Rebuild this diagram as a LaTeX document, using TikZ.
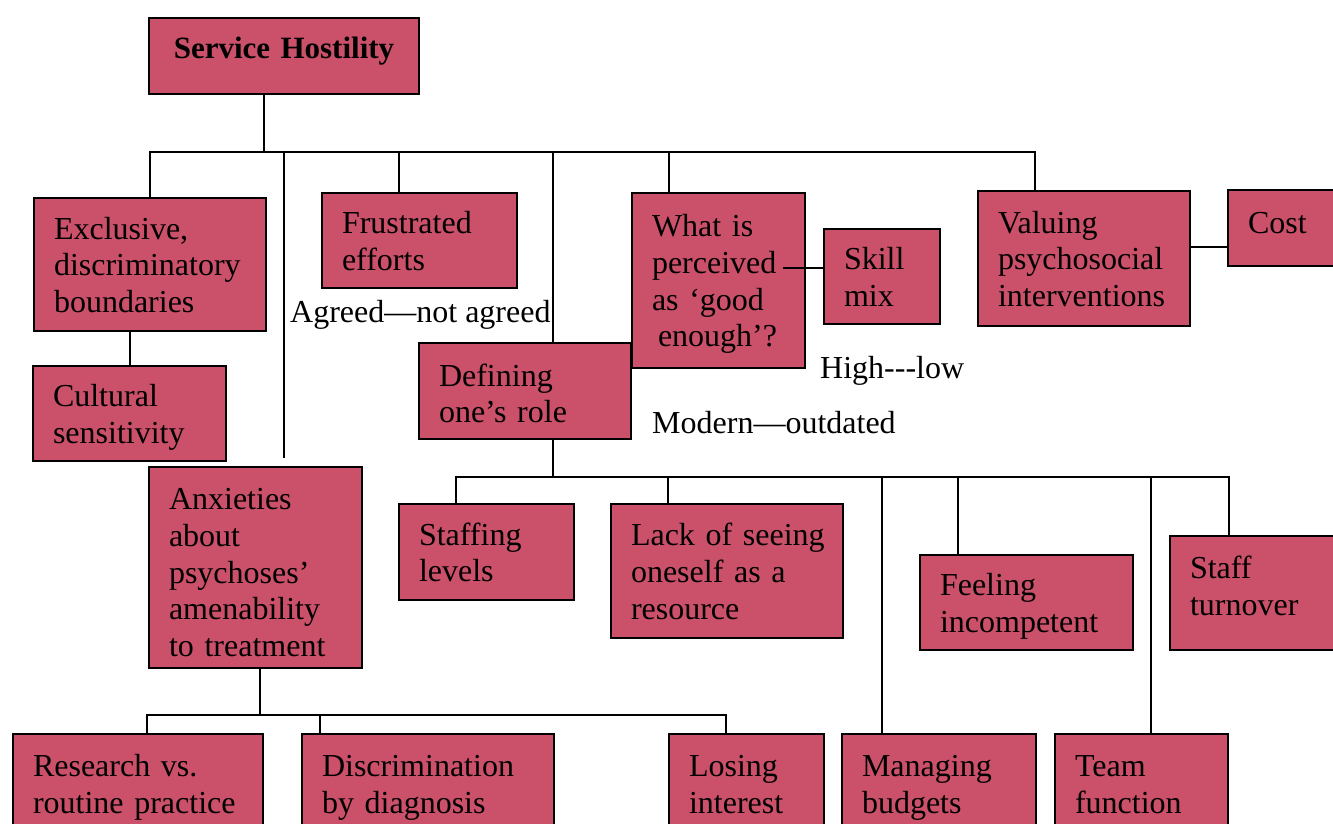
\documentclass[tikz,border=0pt]{standalone}
\usepackage{fontspec}
\setmainfont{Liberation Serif}
\definecolor{boxred}{RGB}{203,80,105}
\newcommand\boxfont{\fontsize{32}{36.7}\selectfont}
\begin{document}
\begin{tikzpicture}[x=1pt,y=-1pt,
  box/.style={draw=black, line width=2pt, fill=boxred, anchor=north west,
    inner xsep=20pt, inner ysep=0pt, align=left, font=\boxfont,
    execute at begin node={\hyphenpenalty=10000\rule{0pt}{33.7pt}},
    execute at end node={\strut}},
  conn/.style={draw=black, line width=2pt},
  lbl/.style={font=\boxfont, inner sep=0pt, anchor=base west}]
\useasboundingbox (0,0) rectangle (1333,823);
\clip (0,0) rectangle (1333,823);
\fill[white] (0,0) rectangle (1333,823);

% root
\node[box, align=center, inner xsep=10pt, text width=250pt, minimum width=270pt,
  minimum height=76pt, font=\fontsize{31}{36}\selectfont\bfseries,
  execute at begin node={}, execute at end node={},
  text height=24pt, text depth=20pt] (SH) at (148,17) {Service Hostility};

% first level
\node[box, minimum width=232pt, minimum height=133pt, text width=192pt] (Excl) at (33,197)
  {Exclusive,\\discriminatory\\boundaries};
\node[box, minimum width=193pt, minimum height=95pt, text width=153pt] (Cult) at (32,365)
  {Cultural\\sensitivity};
\node[box, minimum width=213pt, minimum height=200pt, text width=173pt] (Anx) at (148,466)
  {\rule{0pt}{42.7pt}Anxieties\\about\\psychoses’\\amenability\\to~treatment};
\node[box, minimum width=195pt, minimum height=95pt, text width=155pt] (Frust) at (321,192)
  {Frustrated\\efforts};
\node[box, minimum width=212pt, minimum height=96pt, text width=172pt] (Def) at (418,342)
  {\rule{0pt}{37.7pt}Defining\\one’s~role};
\node[box, minimum width=173pt, minimum height=175pt, text width=133pt] (What) at (631,192)
  {What~is\\perceived\\as~‘good\\\hspace*{6pt}enough’?};
\node[box, minimum width=116pt, minimum height=95pt, text width=76pt] (Skill) at (823,228)
  {Skill\\mix};
\node[box, minimum width=212pt, minimum height=135pt, text width=172pt] (Valu) at (977,190)
  {Valuing\\psychosocial\\interventions};
\node[box, minimum width=123pt, minimum height=76pt, text width=83pt,
  execute at begin node={\strut}] (Cost) at (1227,189)
  {Cost\rule[-22pt]{0pt}{1pt}};

% under "Defining one's role"
\node[box, minimum width=175pt, minimum height=96pt, text width=135pt] (Staffing) at (398,503)
  {Staffing\\levels};
\node[box, minimum width=232pt, minimum height=134pt, text width=192pt] (Lack) at (610,503)
  {Lack~of~seeing\\oneself~as~a\\resource};
\node[box, minimum width=213pt, minimum height=95pt, text width=173pt] (Feel) at (919,554)
  {Feeling\\incompetent};
\node[box, minimum width=180pt, minimum height=114pt, text width=140pt] (Turn) at (1169,535)
  {Staff\\turnover\rule[-26pt]{0pt}{1pt}};
\node[box, minimum width=194pt, minimum height=99pt, text width=154pt] (Manag) at (841,733)
  {Managing\\budgets};
\node[box, minimum width=173pt, minimum height=99pt, text width=133pt] (Team) at (1054,733)
  {Team\\function};

% under "Anxieties"
\node[box, minimum width=250pt, minimum height=99pt, text width=210pt] (Research) at (12,733)
  {Research~vs.\\routine~practice};
\node[box, minimum width=252pt, minimum height=99pt, text width=212pt] (Discr) at (301,733)
  {Discrimination\\by~diagnosis};
\node[box, minimum width=155pt, minimum height=99pt, text width=115pt] (Losing) at (668,733)
  {Losing\\interest};

% free labels
\node[lbl] (agree) at (290,322) {Agreed—not agreed};
\node[lbl] (highlow) at (820,378) {High-{}-{}-low};
\node[lbl] (modern) at (652,433) {Modern—outdated};

% top bus
\coordinate (jSH) at (264,152);
\coordinate (bR) at (1035,152);
\coordinate (dAnx) at (284,152);
\coordinate (dFru) at (399,152);
\coordinate (dDef) at (553,152);
\coordinate (dWhat) at (669,152);
\draw[conn] (SH.south -| jSH) -- (jSH);
\draw[conn] (Excl.north) -- (Excl.north |- jSH) -- (bR) -- (bR |- Valu.north);
\draw[conn, shorten >=8pt] (dAnx) -- (dAnx |- Anx.north);
\draw[conn] (dFru) -- (dFru |- Frust.north);
\draw[conn] (dDef) -- (dDef |- Def.north);
\draw[conn] (dWhat) -- (dWhat |- What.north);

% side links
\draw[conn] (Cult.north) -- (Cult.north |- Excl.south);
\coordinate (wsk) at (783,268);
\draw[conn] (wsk) -- (wsk -| Skill.west);
\coordinate (vc) at (1189,247);
\draw[conn] (vc -| Valu.east) -- (vc -| Cost.west);

% bus under "Defining one's role"
\coordinate (dL) at (553,477);
\coordinate (m1) at (456,477);
\coordinate (m2) at (668,477);
\coordinate (m3) at (882,477);
\coordinate (m4) at (958,477);
\coordinate (m5) at (1151,477);
\coordinate (m6) at (1229,477);
\draw[conn] (Def.south -| dL) -- (dL);
\draw[conn] (m1 |- Staffing.north) -- (m1) -- (m6) -- (m6 |- Turn.north);
\draw[conn] (m2) -- (m2 |- Lack.north);
\draw[conn] (m3) -- (m3 |- Manag.north);
\draw[conn] (m4) -- (m4 |- Feel.north);
\draw[conn] (m5) -- (m5 |- Team.north);

% bus under "Anxieties"
\coordinate (a0) at (260,715);
\coordinate (b1) at (147,715);
\coordinate (b2) at (320,715);
\coordinate (b3) at (726,715);
\draw[conn] (Anx.south -| a0) -- (a0);
\draw[conn] (b1 |- Research.north) -- (b1) -- (b3) -- (b3 |- Losing.north);
\draw[conn] (b2) -- (b2 |- Discr.north);
\end{tikzpicture}
\end{document}
